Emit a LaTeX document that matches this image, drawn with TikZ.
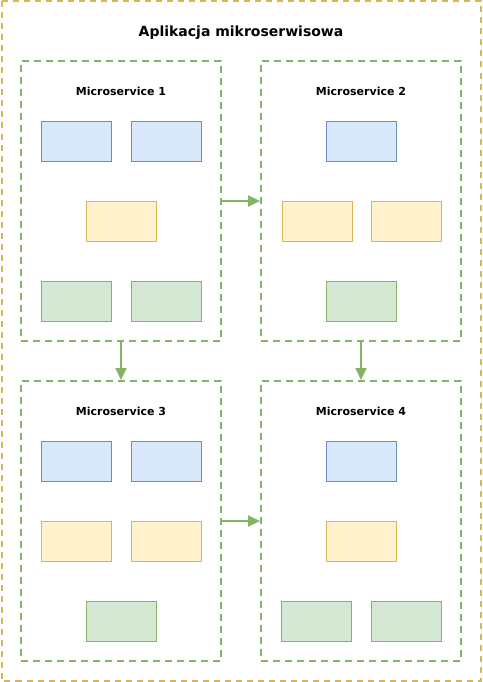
\documentclass[tikz,border=0pt]{standalone}
\usepackage{fontspec}
\setmainfont{DejaVu Sans}
\usetikzlibrary{arrows.meta}
\definecolor{bfill}{HTML}{DAE8FC}\definecolor{bline}{HTML}{6C8EBF}
\definecolor{yfill}{HTML}{FFF2CC}\definecolor{yline}{HTML}{D6B656}
\definecolor{gfill}{HTML}{D5E8D4}\definecolor{gline}{HTML}{82B366}
\tikzset{
  outerbox/.style={draw=yline, line width=2pt, dash pattern=on 6pt off 5pt},
  msbox/.style={draw=gline, line width=2pt, dash pattern=on 7pt off 5pt},
  bbox/.style={draw=bline, fill=bfill, line width=0.8pt, minimum width=70pt, minimum height=40pt, inner sep=0pt},
  ybox/.style={draw=yline, fill=yfill, line width=0.8pt, minimum width=70pt, minimum height=40pt, inner sep=0pt},
  gbox/.style={draw=gline, fill=gfill, line width=0.8pt, minimum width=70pt, minimum height=40pt, inner sep=0pt},
  mslabel/.style={font=\bfseries\fontsize{11}{13}\selectfont},
  flow/.style={draw=gline, line width=2pt, -{Triangle[length=12pt,width=11pt]}, shorten >=0pt},
}
\begin{document}
\begin{tikzpicture}[x=1pt,y=-1pt]
\useasboundingbox (0,0) rectangle (482,682);
\draw[outerbox] (1.5,1.5) rectangle (480.5,680.5);
\node[font=\bfseries\fontsize{14}{16}\selectfont] (title) at (241,33) {Aplikacja mikroserwisowa};
% microservice boxes
\node[msbox, minimum width=200pt, minimum height=280pt, inner sep=0pt] (ms1) at (121,201) {};
\node[msbox, minimum width=200pt, minimum height=280pt, inner sep=0pt] (ms2) at (361,201) {};
\node[msbox, minimum width=200pt, minimum height=280pt, inner sep=0pt] (ms3) at (121,521) {};
\node[msbox, minimum width=200pt, minimum height=280pt, inner sep=0pt] (ms4) at (361,521) {};
\node[mslabel] (l1) at (121,91) {Microservice 1};
\node[mslabel] (l2) at (361,91) {Microservice 2};
\node[mslabel] (l3) at (121,411) {Microservice 3};
\node[mslabel] (l4) at (361,411) {Microservice 4};
% MS1
\node[bbox] (a1) at (76,141) {};
\node[bbox] (a2) at (166,141) {};
\node[ybox] (a3) at (121,221) {};
\node[gbox] (a4) at (76,301) {};
\node[gbox] (a5) at (166,301) {};
% MS2
\node[bbox] (b1) at (361,141) {};
\node[ybox] (b2) at (317,221) {};
\node[ybox] (b3) at (406,221) {};
\node[gbox] (b4) at (361,301) {};
% MS3
\node[bbox] (c1) at (76,461) {};
\node[bbox] (c2) at (166,461) {};
\node[ybox] (c3) at (76,541) {};
\node[ybox] (c4) at (166,541) {};
\node[gbox] (c5) at (121,621) {};
% MS4
\node[bbox] (d1) at (361,461) {};
\node[ybox] (d2) at (361,541) {};
\node[gbox] (d3) at (316,621) {};
\node[gbox] (d4) at (406,621) {};
% arrows
\draw[flow] (ms1.east) -- (ms2.west);
\draw[flow] (ms1.south) -- (ms3.north);
\draw[flow] (ms2.south) -- (ms4.north);
\draw[flow] (ms3.east) -- (ms4.west);
\end{tikzpicture}
\end{document}
